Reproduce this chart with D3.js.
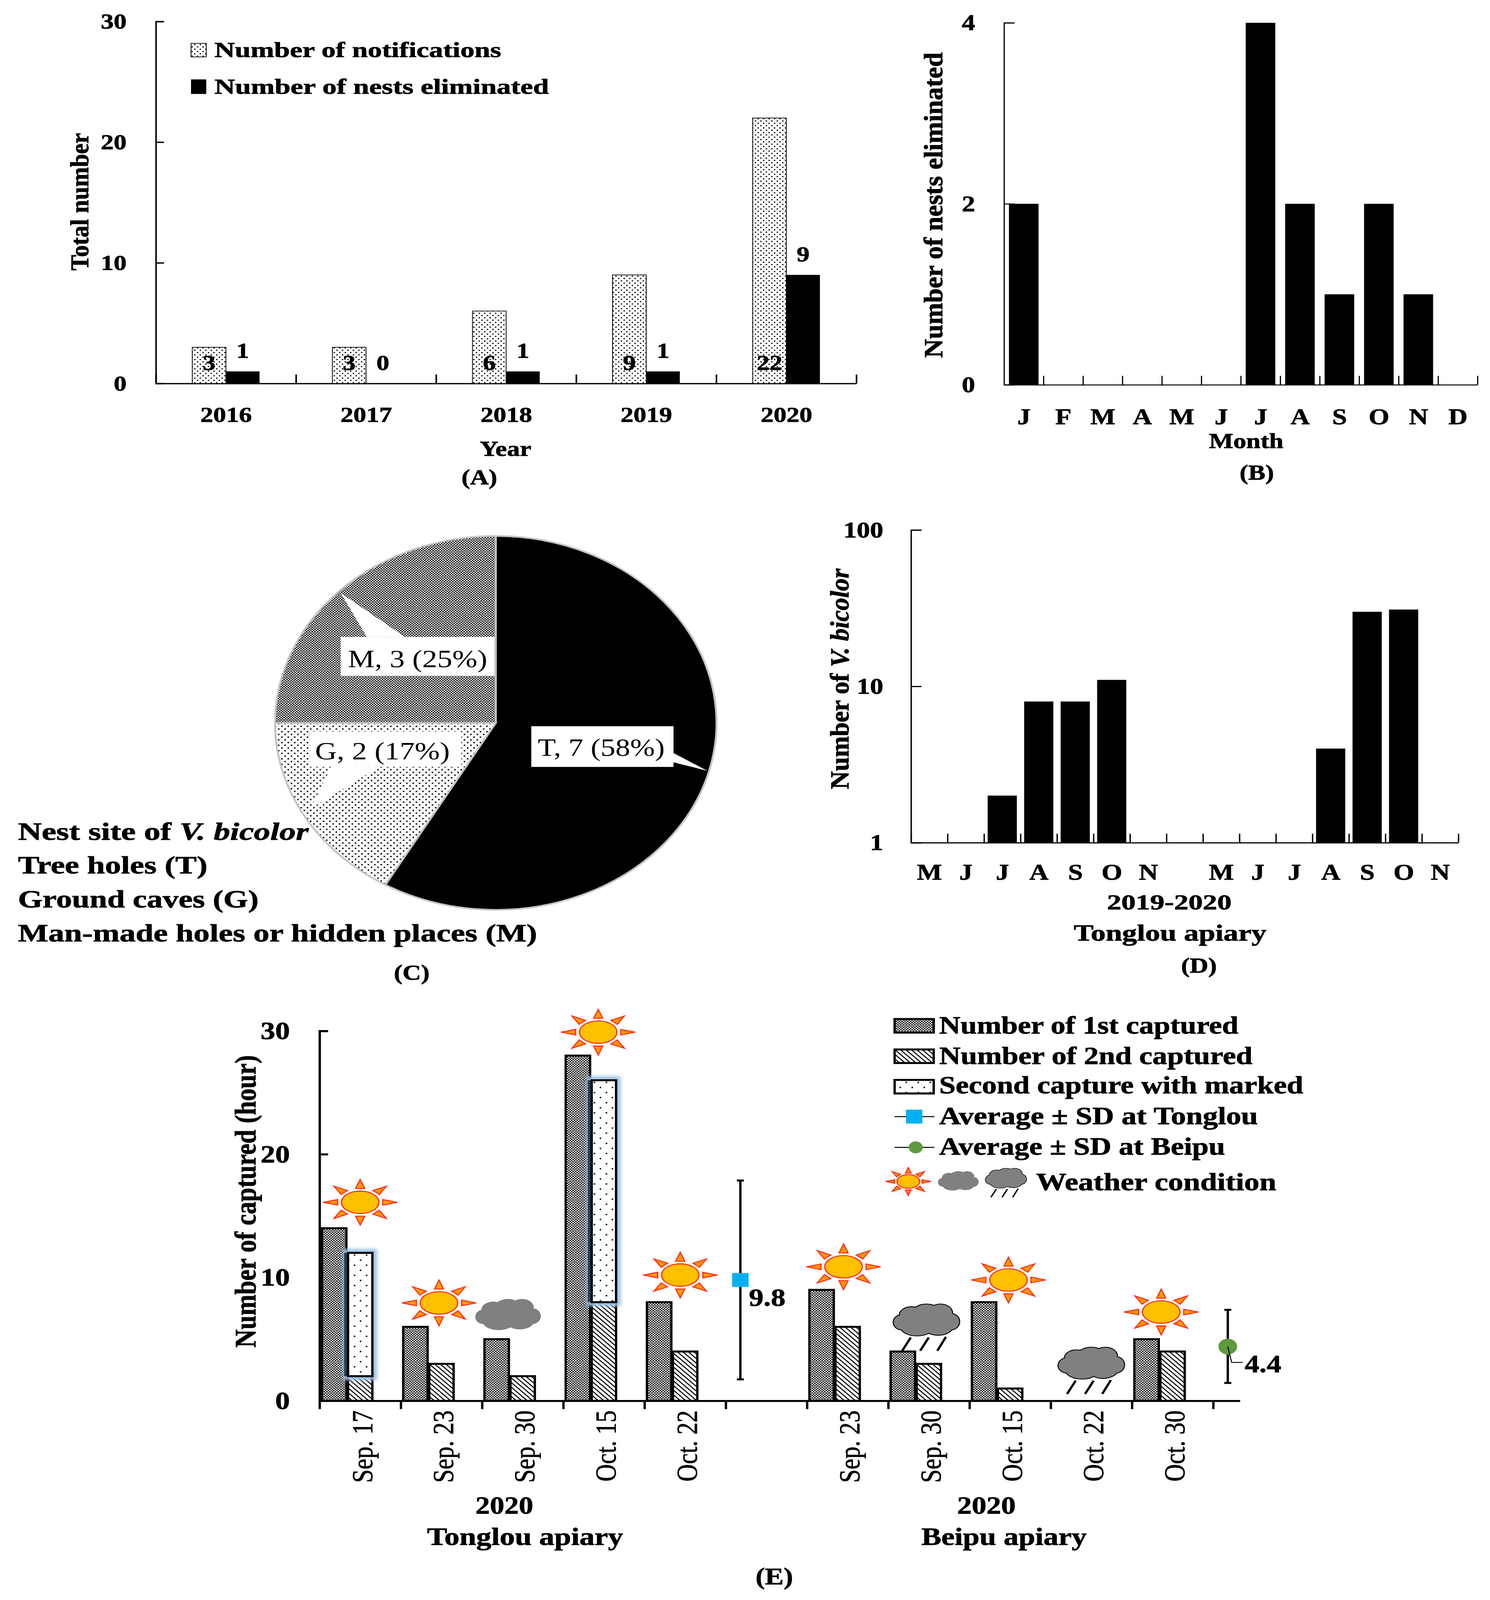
<!DOCTYPE html>
<html>
<head>
<meta charset="utf-8">
<script src="https://cdnjs.cloudflare.com/ajax/libs/d3/7.8.5/d3.min.js"></script>
<style>
  html, body { margin: 0; background: #fff; overflow: hidden; }
  svg { display: block; }
  text { font-family: "Liberation Serif", serif; fill: #000; }
  text[font-weight="bold"] { stroke: #000; stroke-width: 1.2; }
  text.date { stroke: #000; stroke-width: 1; }
</style>
</head>
<body>
<div id="chart"></div>
<script>
// panel A
const yearsA = ['2016', '2017', '2018', '2019', '2020'];
const notificationsA = [3, 3, 6, 9, 22];
const eliminatedA = [1, 0, 1, 1, 9];
const yTicksA = [0, 10, 20, 30];

// panel B
const monthsB = ['J', 'F', 'M', 'A', 'M', 'J', 'J', 'A', 'S', 'O', 'N', 'D'];
const nestsB = [2, 0, 0, 0, 0, 0, 4, 2, 1, 2, 1, 0];
const yTicksB = [0, 2, 4];

// panel C
const siteCountsC = [7, 2, 3];
const siteFillsC = ['#000', 'url(#dotsG)', 'url(#denseM)'];

// panel D
const monthsD = ['M', 'J', 'J', 'A', 'S', 'O', 'N', '', 'M', 'J', 'J', 'A', 'S', 'O', 'N'];
const countsD = [0, 0, 2, 8, 8, 11, 0, 0, 0, 0, 0, 4, 30, 31, 0];
const yTicksD = [1, 10, 100];

// panel E
const datesE = ['Sep. 17', 'Sep. 23', 'Sep. 30', 'Oct. 15', 'Oct. 22', '',
  'Sep. 23', 'Sep. 30', 'Oct. 15', 'Oct. 22', 'Oct. 30'];
const firstE = [14, 6, 5, 28, 8, 0, 9, 4, 8, 0, 5];
const secondE = [2, 3, 2, 8, 4, 0, 6, 3, 1, 0, 4];
const markedE = [10, 0, 0, 18, 0, 0, 0, 0, 0, 0, 0];
const yTicksE = [0, 10, 20, 30];
const avgE = [9.8, 4.4];
const avgLowE = [1.74, 1.45];
const avgHighE = [17.87, 7.38];
const avgPosE = [5.18, 11.18];
const weatherE = ['sun', 'sun', 'cloud', 'sun', 'sun', 'sun', 'rain', 'sun', 'rain', 'sun'];
const weatherPosE = [0.5, 1.47, 2.32, 3.43, 4.44, 6.45, 7.47, 8.48, 9.5, 10.36];
const weatherLevelE = [16.1, 7.94, 6.92, 29.9, 10.2, 10.87, 6.1, 9.8, 2.6, 7.2];

// the window can be shorter than the chart, so the whole 3814x4836 frame is fitted into it
const svg = d3.select('#chart').append('svg')
  .attr('width', window.innerWidth)
  .attr('height', window.innerHeight)
  .attr('viewBox', '0 0 3814 4836')
  .attr('preserveAspectRatio', 'none');

const defs = svg.append('defs');

function checker(id, size, dot) {
  const p = defs.append('pattern').attr('id', id)
    .attr('width', size).attr('height', size)
    .attr('patternUnits', 'userSpaceOnUse');
  p.append('rect').attr('width', size).attr('height', size).attr('fill', '#fff');
  p.append('rect').attr('width', dot).attr('height', dot).attr('fill', '#000');
  p.append('rect').attr('x', size / 2).attr('y', size / 2)
    .attr('width', dot).attr('height', dot).attr('fill', '#000');
}
checker('lightA', 14, 3.5);
checker('denseE', 7.2, 3.6);
checker('denseM', 7.2, 3.6);
checker('dotsG', 16.4, 4);
checker('dotsE', 30.7, 4);

const hatch = defs.append('pattern').attr('id', 'hatchE')
  .attr('width', 14).attr('height', 14)
  .attr('patternUnits', 'userSpaceOnUse');
hatch.append('rect').attr('width', 14).attr('height', 14).attr('fill', '#fff');
hatch.append('path').attr('d', 'M-2,-2L16,16M-2,12L2,16M12,-2L16,2')
  .attr('stroke', '#000').attr('stroke-width', 3);

defs.append('filter').attr('id', 'glow')
  .attr('x', '-30%').attr('y', '-30%').attr('width', '160%').attr('height', '160%')
  .append('feGaussianBlur').attr('stdDeviation', 5);

function label(parent, x, y, str, opts = {}) {
  const t = parent.append('text')
    .attr('font-size', opts.size || 66)
    .attr('font-weight', opts.weight || 'bold')
    .attr('text-anchor', opts.anchor || 'start');
  if (opts.rotate) {
    t.attr('transform', `translate(${x},${y}) rotate(${opts.rotate})`);
  } else {
    t.attr('x', x).attr('y', y);
  }
  if (opts.len) {
    t.attr('textLength', opts.len).attr('lengthAdjust', 'spacingAndGlyphs');
  }
  [].concat(str).forEach((s) => {
    if (typeof s === 'string') t.append('tspan').text(s);
    else t.append('tspan').attr('font-style', 'italic').text(s.i);
  });
  return t;
}

function drawAxes(yAxis, xAxis, left, base, size, sw) {
  const g = svg.append('g');
  const gy = g.append('g').attr('transform', `translate(${left},0)`).call(yAxis);
  const gx = g.append('g').attr('transform', `translate(0,${base})`).call(xAxis);
  [gy, gx].forEach((a) => {
    a.selectAll('path, line').attr('stroke', '#000').attr('stroke-width', sw);
    a.selectAll('text').attr('font-size', size).attr('font-weight', 'bold')
      .attr('font-family', '"Liberation Serif", serif').attr('fill', '#000');
  });
  return { gy, gx };
}

// PANEL A ---------------------------
const xA = d3.scaleLinear().domain([0, 5]).range([399, 2192]);
const yA = d3.scaleLinear().domain([0, 30]).range([1159, 65]);
{
  const axes = drawAxes(
    d3.axisLeft(yA).tickValues(yTicksA).tickSize(-21).tickPadding(75)
      .tickFormat(d3.format('d')),
    d3.axisBottom(xA).tickValues(d3.range(6)).tickSize(-27).tickSizeOuter(0).tickPadding(69)
      .tickFormat((i) => yearsA[i] || ''),
    xA(0), yA(0), 66, 4);
  axes.gx.selectAll('text').attr('dx', (xA(1) - xA(0)) / 2);

  const barW = (xA(1) - xA(0)) * 0.24;
  const mid = (i) => xA(i + 0.5);
  svg.append('g').selectAll('rect').data(notificationsA).join('rect')
    .attr('x', (d, i) => mid(i) - barW)
    .attr('y', (d) => yA(d))
    .attr('width', barW)
    .attr('height', (d) => yA(0) - yA(d))
    .attr('fill', 'url(#lightA)')
    .attr('stroke', '#000').attr('stroke-width', 2);
  svg.append('g').selectAll('rect').data(eliminatedA).join('rect')
    .attr('x', (d, i) => mid(i))
    .attr('y', (d) => yA(d))
    .attr('width', barW)
    .attr('height', (d) => yA(0) - yA(d))
    .attr('fill', '#000');

  const vals = svg.append('g');
  notificationsA.forEach((d, i) => {
    label(vals, mid(i) - barW * 0.5, 1118, String(d), { anchor: 'middle', size: 66 });
  });
  eliminatedA.forEach((d, i) => {
    const y = d === 0 ? 1118 : yA(d) - 41;
    label(vals, mid(i) + barW * 0.5, y, String(d), { anchor: 'middle', size: 66 });
  });

  svg.append('rect').attr('x', 489).attr('y', 131).attr('width', 39).attr('height', 41)
    .attr('fill', 'url(#lightA)').attr('stroke', '#000').attr('stroke-width', 2);
  svg.append('rect').attr('x', 489).attr('y', 240).attr('width', 39).attr('height', 44)
    .attr('fill', '#000');
  label(svg, 549, 172, 'Number of notifications', { len: 734, size: 66 });
  label(svg, 549, 283, 'Number of nests eliminated', { len: 856, size: 66 });
  label(svg, 226, 610, 'Total number', { rotate: -90, anchor: 'middle', len: 416, size: 66 });
  label(svg, 1294, 1378, 'Year', { anchor: 'middle', size: 66 });
  label(svg, 1227, 1464, '(A)', { anchor: 'middle', size: 66 });
}

// PANEL B ---------------------------
const xB = d3.scaleLinear().domain([0, 12]).range([2570, 3782]);
const yB = d3.scaleLinear().domain([0, 4]).range([1163, 69]);
{
  const axes = drawAxes(
    d3.axisLeft(yB).tickValues(yTicksB).tickSize(-27).tickPadding(74).tickFormat(d3.format('d')),
    d3.axisBottom(xB).tickValues(d3.range(13)).tickSize(-27).tickSizeOuter(0).tickPadding(71)
      .tickFormat((i) => monthsB[i] || ''),
    xB(0), yB(0), 68, 3);
  axes.gx.selectAll('text').attr('dx', (xB(1) - xB(0)) / 2);

  const barW = (xB(1) - xB(0)) * 0.75;
  svg.append('g').selectAll('rect').data(nestsB).join('rect')
    .attr('x', (d, i) => xB(i + 0.5) - barW / 2)
    .attr('y', (d) => yB(d))
    .attr('width', barW)
    .attr('height', (d) => yB(0) - yB(d))
    .attr('fill', '#000');

  label(svg, 2412, 620, 'Number of nests eliminated', { rotate: -90, anchor: 'middle', len: 923, size: 68 });
  label(svg, 3190, 1354, 'Month', { anchor: 'middle', size: 66 });
  label(svg, 3217, 1450, '(B)', { anchor: 'middle', size: 66 });
}

// PANEL C ---------------------------
{
  const cx = 1269, cy = 2185, r = 565;
  const pie = d3.pie().sort(null).value((d) => d)(siteCountsC);
  const arc = d3.arc().innerRadius(0).outerRadius(r);
  const g = svg.append('g').attr('transform', `translate(${cx},${cy})`);
  g.selectAll('path').data(pie).join('path')
    .attr('d', arc)
    .attr('fill', (d, i) => siteFillsC[i])
    .attr('stroke', '#c4c4c4').attr('stroke-width', 5);

  const call = svg.append('g').attr('fill', '#fff');
  call.append('polygon').attr('points', '1724,2276 1724,2304 1811,2330');
  call.append('rect').attr('x', 1360).attr('y', 2195).attr('width', 364).attr('height', 123);
  call.append('polygon').attr('points', '872,1792 939,1925 1036,1925');
  call.append('rect').attr('x', 872).attr('y', 1925).attr('width', 394).attr('height', 118);
  call.append('polygon').attr('points', '794,2445 848,2318 970,2318');
  call.append('rect').attr('x', 794).attr('y', 2211).attr('width', 387).attr('height', 107);

  label(svg, 1539, 2285, 'T, 7 (58%)', { anchor: 'middle', weight: 'normal', size: 76, len: 325 });
  label(svg, 1069, 2017, 'M, 3 (25%)', { anchor: 'middle', weight: 'normal', size: 76, len: 357 });
  label(svg, 979, 2295, 'G, 2 (17%)', { anchor: 'middle', weight: 'normal', size: 76, len: 345 });

  label(svg, 46, 2538, ['Nest site of ', { i: 'V. bicolor' }], { size: 76, len: 744 });
  label(svg, 46, 2640, 'Tree holes (T)', { size: 76, len: 485 });
  label(svg, 46, 2743, 'Ground caves (G)', { size: 76, len: 616 });
  label(svg, 46, 2845, 'Man-made holes or hidden places (M)', { size: 76, len: 1329 });
  label(svg, 1054, 2961, '(C)', { anchor: 'middle', size: 66 });
}

// PANEL D ---------------------------
const xD = d3.scaleLinear().domain([0, 15]).range([2332, 3733]);
const yD = d3.scaleLog().domain([1, 100]).range([2547, 1602]);
{
  const axes = drawAxes(
    d3.axisLeft(yD).tickValues(yTicksD).tickSize(-27).tickPadding(71).tickFormat(d3.format('d')),
    d3.axisBottom(xD).tickValues(d3.range(16)).tickSize(-27).tickSizeOuter(0).tickPadding(63)
      .tickFormat((i) => monthsD[i] || ''),
    xD(0), yD(1), 68, 3.5);
  axes.gx.selectAll('text').attr('dx', (xD(1) - xD(0)) / 2);

  const barW = (xD(1) - xD(0)) * 0.8;
  svg.append('g').selectAll('rect').data(countsD.map((d, i) => [d, i]).filter((d) => d[0] > 0)).join('rect')
    .attr('x', (d) => xD(d[1] + 0.5) - barW / 2)
    .attr('y', (d) => yD(d[0]))
    .attr('width', barW)
    .attr('height', (d) => yD(1) - yD(d[0]))
    .attr('fill', '#000');

  label(svg, 2172, 2052, ['Number of ', { i: 'V. bicolor' }], { rotate: -90, anchor: 'middle', len: 667, size: 68 });
  label(svg, 2993, 2749, '2019-2020', { anchor: 'middle', len: 319, size: 66 });
  label(svg, 2995, 2843, 'Tonglou apiary', { anchor: 'middle', len: 493, size: 70 });
  label(svg, 3069, 2940, '(D)', { anchor: 'middle', size: 66 });
}

// PANEL E ---------------------------
function drawSun(parent, x, y, k) {
  const g = parent.append('g').attr('transform', `translate(${x},${y})`);
  const rx = 95 * k, ry = 69 * k;
  const pt = (rad, a) => [rad * rx * Math.cos(a), rad * ry * Math.sin(a)];
  d3.range(8).forEach((n) => {
    const a = n * Math.PI / 4;
    g.append('polygon')
      .attr('points', [pt(0.62, a - 0.2), pt(1, a), pt(0.62, a + 0.2)].join(' '))
      .attr('fill', '#ff9900').attr('stroke', '#ff2a1a').attr('stroke-width', 3);
  });
  g.append('ellipse').attr('rx', 48 * k).attr('ry', 34 * k)
    .attr('fill', '#ffc000').attr('stroke', '#ff2a1a').attr('stroke-width', 3);
}

const cloudPuffs = [
  [-62, 4, 22, 22], [-38, -18, 30, 24], [0, -26, 34, 24], [36, -24, 30, 26],
  [62, 2, 22, 24], [30, 18, 36, 24], [-24, 20, 40, 24], [0, 0, 60, 30],
];

function drawCloud(parent, x, y, k, outlined) {
  const g = parent.append('g').attr('transform', `translate(${x},${y}) scale(${k})`);
  if (outlined) {
    [[-40, 50, -62, 90], [6, 50, -16, 90], [50, 48, 28, 90]].forEach((l) => {
      g.append('line').attr('x1', l[0]).attr('y1', l[1]).attr('x2', l[2]).attr('y2', l[3])
        .attr('stroke', '#000').attr('stroke-width', 6);
    });
    g.selectAll('.edge').data(cloudPuffs).join('ellipse').attr('class', 'edge')
      .attr('cx', (d) => d[0]).attr('cy', (d) => d[1])
      .attr('rx', (d) => d[2]).attr('ry', (d) => d[3])
      .attr('fill', '#000').attr('stroke', '#000').attr('stroke-width', 5);
  }
  g.selectAll('.puff').data(cloudPuffs).join('ellipse').attr('class', 'puff')
    .attr('cx', (d) => d[0]).attr('cy', (d) => d[1])
    .attr('rx', (d) => d[2]).attr('ry', (d) => d[3])
    .attr('fill', '#808080');
}

const xE = d3.scaleLinear().domain([0, 11.33]).range([818, 3174]);
const yE = d3.scaleLinear().domain([0, 30]).range([4234, 3116]);
{
  const axes = drawAxes(
    d3.axisLeft(yE).tickValues(yTicksE).tickSize(-22).tickPadding(76).tickFormat(d3.format('d')),
    d3.axisBottom(xE).tickValues(d3.range(12)).tickSize(25).tickSizeOuter(0)
      .tickFormat((i) => datesE[i] || ''),
    xE(0), yE(0), 75, 6);
  axes.gx.selectAll('text')
    .attr('class', 'date')
    .attr('x', 0).attr('y', 0).attr('dy', 0)
    .attr('font-weight', 'normal').attr('font-size', 73)
    .attr('text-anchor', 'end')
    .attr('transform', 'translate(134,29) rotate(-90)');

  const first = 0.03, second = 0.35;
  const w = xE(0.3) - xE(0);
  const bars = svg.append('g').attr('stroke', '#000').attr('stroke-width', 6);

  firstE.forEach((d, i) => {
    if (d <= 0) return;
    bars.append('rect').attr('x', xE(i + first)).attr('y', yE(d))
      .attr('width', w).attr('height', yE(0) - yE(d))
      .attr('fill', 'url(#denseE)');
  });
  secondE.forEach((d, i) => {
    if (d <= 0) return;
    bars.append('rect').attr('x', xE(i + second)).attr('y', yE(d))
      .attr('width', w).attr('height', yE(0) - yE(d))
      .attr('fill', 'url(#hatchE)');
  });
  markedE.forEach((d, i) => {
    if (d <= 0) return;
    const top = yE(secondE[i] + d), bottom = yE(secondE[i]);
    svg.append('rect').attr('x', xE(i + second)).attr('y', top)
      .attr('width', w).attr('height', bottom - top)
      .attr('fill', 'none').attr('stroke', '#9cc3e6').attr('stroke-width', 24)
      .attr('filter', 'url(#glow)');
    svg.append('rect').attr('x', xE(i + second) - 10).attr('y', top)
      .attr('width', 8).attr('height', bottom - top)
      .attr('fill', '#23405e');
    svg.append('rect').attr('x', xE(i + second)).attr('y', top)
      .attr('width', w).attr('height', bottom - top)
      .attr('fill', 'url(#dotsE)').attr('stroke', '#000').attr('stroke-width', 6);
  });

  // averages with error bars
  const capW = 9;
  avgE.forEach((d, i) => {
    const px = xE(avgPosE[i]);
    const g = svg.append('g').attr('stroke', '#000').attr('stroke-width', 6);
    g.append('line').attr('x1', px).attr('x2', px).attr('y1', yE(avgHighE[i])).attr('y2', yE(avgLowE[i]));
    g.append('line').attr('x1', px - capW).attr('x2', px + capW).attr('y1', yE(avgHighE[i])).attr('y2', yE(avgHighE[i]));
    g.append('line').attr('x1', px - capW).attr('x2', px + capW).attr('y1', yE(avgLowE[i])).attr('y2', yE(avgLowE[i]));
  });
  svg.append('rect').attr('x', xE(avgPosE[0]) - 21).attr('y', yE(avgE[0]) - 21)
    .attr('width', 42).attr('height', 42).attr('fill', '#00b0f0');
  svg.append('circle').attr('cx', xE(avgPosE[1])).attr('cy', yE(avgE[1])).attr('r', 24)
    .attr('fill', '#5e9a3c');
  svg.append('path')
    .attr('d', `M${xE(avgPosE[1])},${yE(avgE[1])}l10,48h28`)
    .attr('fill', 'none').attr('stroke', '#000').attr('stroke-width', 2.5);
  label(svg, 1917, 3947, String(avgE[0]), { size: 75 });
  label(svg, 3186, 4148, String(avgE[1]), { size: 75 });

  // weather icons
  const icons = svg.append('g');
  weatherE.forEach((kind, i) => {
    const px = xE(weatherPosE[i]), py = yE(weatherLevelE[i]);
    if (kind === 'sun') drawSun(icons, px, py, 1);
    if (kind === 'cloud') drawCloud(icons, px, py, 1, false);
    if (kind === 'rain') drawCloud(icons, px, py - 14, 1, true);
  });

  // legend
  const leg = svg.append('g');
  const swatch = (y, fill) => leg.append('rect').attr('x', 2290).attr('y', y)
    .attr('width', 100).attr('height', 41).attr('fill', fill)
    .attr('stroke', '#000').attr('stroke-width', 6);
  swatch(3080, 'url(#denseE)');
  swatch(3172, 'url(#hatchE)');
  swatch(3264, 'url(#dotsE)');
  leg.append('line').attr('x1', 2290).attr('x2', 2392).attr('y1', 3375).attr('y2', 3375)
    .attr('stroke', '#000').attr('stroke-width', 3);
  leg.append('rect').attr('x', 2319).attr('y', 3354).attr('width', 42).attr('height', 42).attr('fill', '#00b0f0');
  leg.append('line').attr('x1', 2290).attr('x2', 2392).attr('y1', 3468).attr('y2', 3468)
    .attr('stroke', '#000').attr('stroke-width', 3);
  leg.append('circle').attr('cx', 2344).attr('cy', 3468).attr('r', 18).attr('fill', '#5e9a3c');
  label(leg, 2404, 3124, 'Number of 1st captured', { size: 76, len: 766 });
  label(leg, 2404, 3216, 'Number of 2nd captured', { size: 76, len: 802 });
  label(leg, 2404, 3305, 'Second capture with marked', { size: 76, len: 932 });
  label(leg, 2404, 3398, 'Average ± SD at Tonglou', { size: 76, len: 816 });
  label(leg, 2404, 3490, 'Average ± SD at Beipu', { size: 76, len: 732 });
  drawSun(leg, 2325, 3571, 0.61);
  drawCloud(leg, 2453, 3571, 0.62, false);
  drawCloud(leg, 2575, 3563, 0.62, true);
  label(leg, 2652, 3597, 'Weather condition', { size: 76, len: 615 });

  label(svg, 654, 3631, 'Number of captured (hour)', { rotate: -90, anchor: 'middle', len: 884, size: 76 });
  label(svg, 1291, 4575, '2020', { anchor: 'middle', len: 148, size: 74 });
  label(svg, 1344, 4670, 'Tonglou apiary', { anchor: 'middle', len: 502, size: 74 });
  label(svg, 2525, 4575, '2020', { anchor: 'middle', len: 150, size: 74 });
  label(svg, 2570, 4670, 'Beipu apiary', { anchor: 'middle', len: 423, size: 74 });
  label(svg, 1982, 4789, '(E)', { anchor: 'middle', size: 72 });
}
</script>
</body>
</html>
